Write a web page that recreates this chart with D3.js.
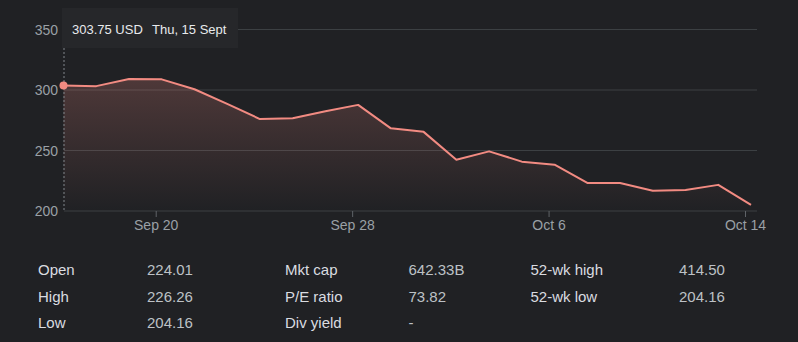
<!DOCTYPE html>
<html>
<head>
<meta charset="utf-8">
<script src="https://cdn.jsdelivr.net/npm/d3@7"></script>
<style>
  html, body { margin: 0; padding: 0; background: #202124; }
  svg { display: block; font-family: Arial, "Liberation Sans", sans-serif; }
</style>
</head>
<body>
<svg id="chart" width="798" height="342"></svg>
<script>
// ---- data ----
const dates = ["Sep 15","Sep 16","Sep 19","Sep 20","Sep 21","Sep 22","Sep 23","Sep 26","Sep 27","Sep 28","Sep 29","Sep 30",
               "Oct 3","Oct 4","Oct 5","Oct 6","Oct 7","Oct 10","Oct 11","Oct 12","Oct 13","Oct 14"];
const prices = [303.75, 303.2, 309.1, 308.8, 300.6, 288.5, 276.0, 276.6, 282.5, 287.7, 268.3, 265.4,
                242.3, 249.3, 240.8, 238.3, 223.2, 223.1, 216.8, 217.4, 221.6, 205.0];
const yTicks = [200, 250, 300, 350];
const xTickLabels = ["Sep 20", "Sep 28", "Oct 6", "Oct 14"];
const tooltipPrice = "303.75 USD";
const tooltipDate = "Thu, 15 Sept";
const statLabels1 = ["Open", "High", "Low"];
const statValues1 = ["224.01", "226.26", "204.16"];
const statLabels2 = ["Mkt cap", "P/E ratio", "Div yield"];
const statValues2 = ["642.33B", "73.82", "-"];
const statLabels3 = ["52-wk high", "52-wk low"];
const statValues3 = ["414.50", "204.16"];

// ---- chart ----
const svg = d3.select("#chart");
const lineColor = "#f28b82";

const x = d3.scalePoint().domain(dates).range([63.5, 751]);
const y = d3.scaleLinear().domain([200, 350]).range([211, 29.5]);

// gradient
const defs = svg.append("defs");
const grad = defs.append("linearGradient").attr("id", "areaGrad")
  .attr("x1", 0).attr("y1", 0).attr("x2", 0).attr("y2", 1);
grad.append("stop").attr("offset", "0%").attr("stop-color", lineColor).attr("stop-opacity", 0.22);
grad.append("stop").attr("offset", "100%").attr("stop-color", lineColor).attr("stop-opacity", 0.0);

// gridlines
svg.append("g").selectAll("line").data(yTicks).join("line")
  .attr("x1", 64).attr("x2", 757)
  .attr("y1", d => y(d)).attr("y2", d => y(d))
  .attr("stroke", "#3c4043").attr("stroke-width", 1);

// y labels
svg.append("g").selectAll("text").data(yTicks).join("text")
  .attr("x", 58).attr("y", d => y(d) + 5)
  .attr("text-anchor", "end")
  .attr("font-size", 14).attr("fill", "#9aa0a6")
  .text(d => d);

// area
const area = d3.area()
  .x((d, i) => x(dates[i]))
  .y0(y(200))
  .y1(d => y(d));
svg.append("path").datum(prices)
  .attr("d", area)
  .attr("fill", "url(#areaGrad)");

// x ticks (slightly left of the data point, as in the reference)
const tickOffset = -5.5;
const xt = svg.append("g");
xt.selectAll("line").data(xTickLabels).join("line")
  .attr("x1", d => x(d) + tickOffset).attr("x2", d => x(d) + tickOffset)
  .attr("y1", y(200)).attr("y2", y(200) + 6)
  .attr("stroke", "#5f6368").attr("stroke-width", 1);
xt.selectAll("text").data(xTickLabels).join("text")
  .attr("x", d => x(d) + tickOffset).attr("y", 230)
  .attr("text-anchor", "middle")
  .attr("font-size", 14).attr("fill", "#9aa0a6")
  .text(d => d);

// hover dashed line
svg.append("line")
  .attr("x1", x(dates[0]) + 0.5).attr("x2", x(dates[0]) + 0.5)
  .attr("y1", 48).attr("y2", y(200))
  .attr("stroke", "#80868b").attr("stroke-width", 1)
  .attr("stroke-dasharray", "2,2");

// line
const line = d3.line()
  .x((d, i) => x(dates[i]))
  .y(d => y(d));
svg.append("path").datum(prices)
  .attr("d", line)
  .attr("fill", "none")
  .attr("stroke", lineColor)
  .attr("stroke-width", 2)
  .attr("stroke-linejoin", "round");

// hover dot
svg.append("circle")
  .attr("cx", x(dates[0])).attr("cy", y(prices[0]))
  .attr("r", 4).attr("fill", lineColor);

// tooltip
svg.append("rect")
  .attr("x", 62).attr("y", 8).attr("width", 176).attr("height", 40)
  .attr("fill", "#26272a");
svg.append("text").attr("x", 72).attr("y", 34)
  .attr("font-size", 13).attr("fill", "#e8eaed").text(tooltipPrice);
svg.append("text").attr("x", 152).attr("y", 34)
  .attr("font-size", 13).attr("fill", "#e8eaed").text(tooltipDate);

// stats table
const rowY = [275, 301.5, 328];
function col(labels, values, lx, vx) {
  const g = svg.append("g");
  g.selectAll("text.l").data(labels).join("text").attr("class", "l")
    .attr("x", lx).attr("y", (d, i) => rowY[i])
    .attr("font-size", 15).attr("fill", "#dadce0").text(d => d);
  g.selectAll("text.v").data(values).join("text").attr("class", "v")
    .attr("x", vx).attr("y", (d, i) => rowY[i])
    .attr("font-size", 15).attr("fill", "#bdc1c6").text(d => d);
}
col(statLabels1, statValues1, 38, 147);
col(statLabels2, statValues2, 285, 408.5);
col(statLabels3, statValues3, 530.5, 679);
</script>
</body>
</html>
